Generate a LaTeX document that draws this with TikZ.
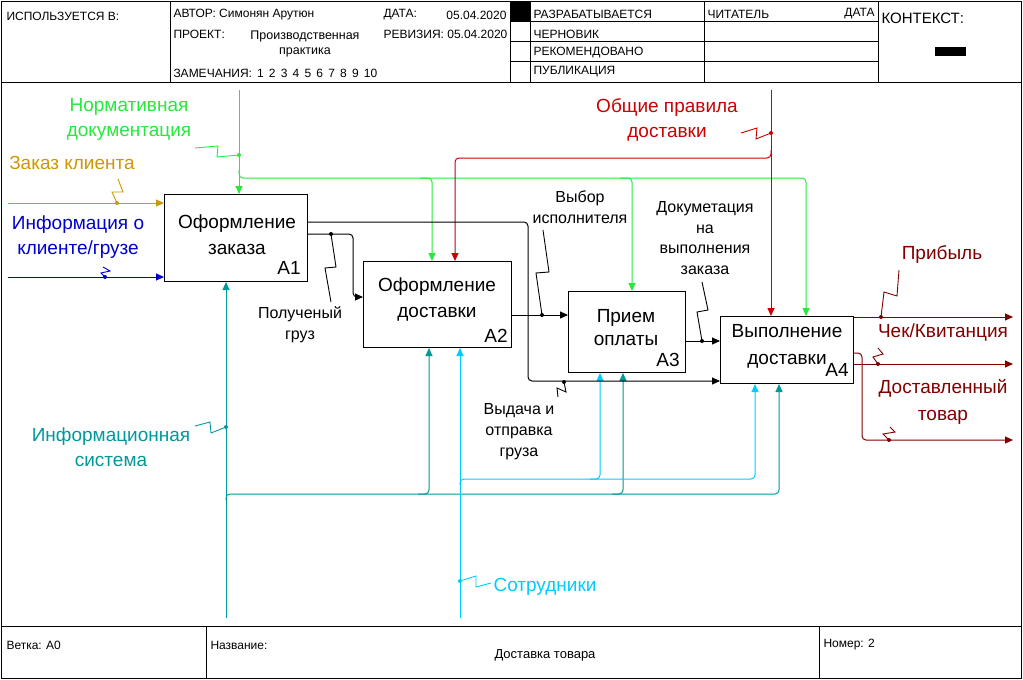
\documentclass[tikz,border=0pt]{standalone}
\usepackage{fontspec}
\setmainfont{Liberation Sans}
\usetikzlibrary{arrows.meta}
\definecolor{cOrange}{RGB}{204,153,0}
\definecolor{cBlue}{RGB}{0,0,204}
\definecolor{cGreen}{RGB}{40,232,60}
\definecolor{cRed}{RGB}{204,0,0}
\definecolor{cTeal}{RGB}{0,153,153}
\definecolor{cCyan}{RGB}{0,204,255}
\definecolor{cMaroon}{RGB}{128,0,0}
\begin{document}
\begin{tikzpicture}[x=1pt,y=-1pt, line width=1pt,
  arr/.style={-{Triangle[length=8pt,width=7pt]}},
  box/.style={draw, line width=1pt, anchor=north west, inner sep=0},
  btxt/.style={font=\fontsize{19}{26}\selectfont, align=center, inner sep=0},
  lbl/.style={font=\fontsize{19}{25}\selectfont, align=center, inner sep=0},
  note/.style={font=\fontsize{16}{21}\selectfont, align=center, inner sep=0},
  hdr/.style={font=\fontsize{12}{14}\selectfont, inner sep=0, anchor=west},
  sq/.style={line width=0.9pt},
  dot/.style={circle, inner sep=0, minimum size=4pt}
]
\useasboundingbox (0,0) rectangle (1023,680);
\fill[white] (0,0) rectangle (1023,680);
% frame
\draw (1,1) rectangle (1021,678);
\draw (1,82) -- (1021,82);
\draw (1,626) -- (1021,626);
\foreach \x in {170,510,530,704,878} \draw (\x,1) -- (\x,82);
\foreach \y in {21,41,61} \draw (510,\y) -- (878,\y);
\fill (510,1) rectangle (530,21);
\fill (935,47) rectangle (966,56);
\draw (206,626) -- (206,678);
\draw (819,626) -- (819,678);
% header texts
\node[hdr] (h1) at (6,16) {ИСПОЛЬЗУЕТСЯ В:};
\node[hdr] (h2) at (173,15) {АВТОР: Симонян Арутюн};
\node[hdr] (h3) at (383,15) {ДАТА:};
\node[hdr, anchor=east] (h4) at (507,15) {05.04.2020};
\node[hdr] (h5) at (173,34) {ПРОЕКТ:};
\node[hdr, anchor=center, align=center, font=\fontsize{12.5}{15}\selectfont] (h6) at (305,44) {Производственная\\практика};
\node[hdr] (h7) at (383,34) {РЕВИЗИЯ: 05.04.2020};
\node[hdr] (h8) at (173,73) {ЗАМЕЧАНИЯ:\hspace{5pt}1\hspace{5.2pt}2\hspace{5.2pt}3\hspace{5.2pt}4\hspace{5.2pt}5\hspace{5.2pt}6\hspace{5.2pt}7\hspace{5.2pt}8\hspace{5.2pt}9\hspace{5.2pt}10};
\node[hdr] (h9) at (533,14) {РАЗРАБАТЫВАЕТСЯ};
\node[hdr] (h10) at (533,34) {ЧЕРНОВИК};
\node[hdr] (h11) at (533,53) {РЕКОМЕНДОВАНО};
\node[hdr] (h12) at (533,72) {ПУБЛИКАЦИЯ};
\node[hdr] (h13) at (707,14) {ЧИТАТЕЛЬ};
\node[hdr, anchor=east] (h14) at (875,14) {ДАТА};
\node[hdr, font=\fontsize{15}{17}\selectfont] (h15) at (881,18) {КОНТЕКСТ:};
% footer texts
\node[hdr] (f1) at (6,645) {Ветка: A0};
\node[hdr] (f2) at (210,645) {Название:};
\node[hdr, anchor=center, font=\fontsize{13}{15}\selectfont] (f3) at (545,655) {Доставка товара};
\node[hdr] (f4) at (823,645) {Номер: 2};
% boxes
\node[box, minimum width=143pt, minimum height=87pt] (A1) at (164,194) {};
\node[box, minimum width=148pt, minimum height=86pt] (A2) at (363,261) {};
\node[box, minimum width=117pt, minimum height=81pt] (A3) at (568,291) {};
\node[box, minimum width=133pt, minimum height=67pt] (A4) at (720,316) {};
\node[btxt] (A1t) at (237,235) {Оформление\\заказа};
\node[btxt] (A1n) at (289,268) {A1};
\node[btxt] (A2t) at (437,300) {Оформление\\доставки};
\node[btxt] (A2n) at (496,336) {A2};
\node[btxt, font=\fontsize{19}{23}\selectfont] (A3t) at (626,327.5) {Прием\\оплаты};
\node[btxt] (A3n) at (668,360) {A3};
\node[btxt, font=\fontsize{19}{27}\selectfont] (A4t) at (787,346.5) {Выполнение\\доставки};
\node[btxt] (A4n) at (837,370) {A4};
% coloured labels
\node[lbl, text=cGreen] (Lnorm) at (129,119.5) {Нормативная\\документация};
\node[lbl, text=cOrange] (Lzak) at (72,163) {Заказ клиента};
\node[lbl, text=cBlue] (Linfo) at (78,237.5) {Информация о\\клиенте/грузе};
\node[lbl, text=cRed] (Lrules) at (667,119.5) {Общие правила\\доставки};
\node[lbl, text=cTeal] (Lis) at (111,447) {Информационная\\система};
\node[lbl, text=cCyan] (Lemp) at (545,587) {Сотрудники};
\node[lbl, text=cMaroon] (Lprof) at (942,255) {Прибыль};
\node[lbl, text=cMaroon] (Lchk) at (943,333) {Чек/Квитанция};
\node[lbl, text=cMaroon, font=\fontsize{19}{27}\selectfont] (Lgood) at (943,401.5) {Доставленный\\товар};
% black notes
\node[note] (Ngr) at (300,324.5) {Полученый\\груз};
\node[note] (Nvyb) at (580,207.5) {Выбор\\исполнителя};
\node[note, font=\fontsize{16}{20.7}\selectfont] (Ndoc) at (705,238) {Докуметация\\на\\выполнения\\заказа};
\node[note] (Nvyd) at (519,432) {Выдача и\\отправка\\груза};
% coordinates
\coordinate (inZ) at (8,203);
\coordinate (inI) at (8,277);
\coordinate (cN) at (239,90);
\coordinate (cNb) at (239,170);
\coordinate (gA4) at (806,178);
\coordinate (gA2s) at (420,178);
\coordinate (gA2) at (432,178);
\coordinate (gA3s) at (620,178);
\coordinate (gA3) at (632,178);
\coordinate (cR) at (771,90);
\coordinate (cRb) at (771,150);
\coordinate (rA2) at (455,158);
\coordinate (mT) at (226,618);
\coordinate (mTb) at (226,500);
\coordinate (tA4) at (779,494);
\coordinate (tA2s) at (418,494);
\coordinate (tA2) at (429,494);
\coordinate (tA3s) at (612,494);
\coordinate (tA3) at (623,494);
\coordinate (mC) at (460,618);
\coordinate (mCb) at (460,485);
\coordinate (cA4) at (755,479);
\coordinate (cA3s) at (590,479);
\coordinate (cA3) at (600,479);
\coordinate (k1) at (528,222);
\coordinate (k2) at (528,381);
\coordinate (k3) at (353,234);
\coordinate (k4) at (353,297);
\coordinate (k5) at (540,315);
\coordinate (k6) at (700,341);
\coordinate (k7) at (862,353);
\coordinate (k8) at (862,440);
\coordinate (e1) at (1013,317);
\coordinate (e2) at (1013,364);
\coordinate (e3) at (1013,440);
% inputs
\draw[arr, cOrange] (inZ) -- (inZ -| A1.west);
\draw[arr, cBlue] (inI) -- (inI -| A1.west);
% controls
\draw[arr, cGreen] (cN) -- (cN |- A1.north);
\draw[arr, cGreen, rounded corners=4pt] (cNb) |- (gA4) -- (gA4 |- A4.north);
\draw[arr, cGreen, rounded corners=4pt] (gA2s) -| (gA2 |- A2.north);
\draw[arr, cGreen, rounded corners=4pt] (gA3s) -| (gA3 |- A3.north);
\draw[arr, cRed] (cR) -- (cR |- A4.north);
\draw[arr, cRed, rounded corners=4pt] (cRb) |- (rA2) -- (rA2 |- A2.north);
% mechanisms
\draw[arr, cTeal] (mT) -- (mT |- A1.south);
\draw[arr, cTeal, rounded corners=4pt] (mTb) |- (tA4) -- (tA4 |- A4.south);
\draw[arr, cTeal, rounded corners=4pt] (tA2s) -| (tA2 |- A2.south);
\draw[arr, cTeal, rounded corners=4pt] (tA3s) -| (tA3 |- A3.south);
\draw[arr, cCyan] (mC) -- (mC |- A2.south);
\draw[arr, cCyan, rounded corners=4pt] (mCb) |- (cA4) -- (cA4 |- A4.south);
\draw[arr, cCyan, rounded corners=4pt] (cA3s) -| (cA3 |- A3.south);
% outputs
\draw[arr, rounded corners=4pt] (A1.east |- k1) -- (k1) -- (k2) -- (k2 -| A4.west);
\draw[arr, rounded corners=4pt] (A1.east |- k3) -- (k3) -- (k4) -- (k4 -| A2.west);
\draw[arr] (A2.east |- k5) -- (k5 -| A3.west);
\draw[arr] (A3.east |- k6) -- (k6 -| A4.west);
\draw[arr, cMaroon] (e1 -| A4.east) -- (e1);
\draw[arr, cMaroon] (e2 -| A4.east) -- (e2);
\draw[arr, cMaroon, rounded corners=4pt] (A4.east |- k7) -- (k7) -- (k8) -- (e3);
% squiggles
\node[dot, fill=cOrange] (dZ) at (117,203) {};
\draw[sq, cOrange] (dZ.center) -- ++(-5,-11) -- ++(11,0) -- ++(-5,-13);
\node[dot, fill=cBlue] (dI) at (105,277) {};
\draw[sq, cBlue] (dI.center) -- ++(-4,-4) -- ++(9,-2) -- ++(-7,-4);
\node[dot, fill=cGreen] (dN) at (239,155) {};
\draw[sq, cGreen] (dN.center) -- ++(-22,2) -- ++(1,-11) -- ++(-23,2);
\node[dot, fill=cRed] (dR) at (771,133) {};
\draw[sq, cRed] (dR.center) -- ++(-15,6) -- ++(1,-11) -- ++(-16,5);
\node[dot, fill=cTeal] (dT) at (226,427) {};
\draw[sq, cTeal] (dT.center) -- ++(-15,6) -- ++(-1,-11) -- ++(-15,4);
\node[dot, fill=cCyan] (dC) at (460,581) {};
\draw[sq, cCyan] (dC.center) -- ++(16,-5) -- ++(0,11) -- ++(15,-4);
\node[dot, fill=black] (dG) at (331,234) {};
\draw[sq] (dG.center) -- ++(5,33) -- ++(-11,1) -- ++(6,34);
\node[dot, fill=black] (dV) at (542,315) {};
\draw[sq] (dV.center) -- ++(-6,-42) -- ++(13,-1) -- ++(-6,-42);
\node[dot, fill=black] (dD) at (702,341) {};
\draw[sq] (dD.center) -- ++(-5,-29) -- ++(11,-2) -- ++(-6,-28);
\node[dot, fill=black] (dO) at (564,382) {};
\draw[sq] (dO.center) -- ++(2,10) -- ++(-9,-4) -- ++(1,9);
\node[dot, fill=cMaroon] (dP) at (881,317) {};
\draw[sq, cMaroon] (dP.center) -- ++(3,-25) -- ++(13,4) -- ++(2,-26);
\node[dot, fill=cMaroon] (dK) at (878,364) {};
\draw[sq, cMaroon] (dK.center) -- ++(-5,-7) -- ++(10,-3) -- ++(-5,-6);
\node[dot, fill=cMaroon] (dT2) at (889,440) {};
\draw[sq, cMaroon] (dT2.center) -- ++(-6,-6) -- ++(12,-2) -- ++(-5,-5);
\end{tikzpicture}
\end{document}
